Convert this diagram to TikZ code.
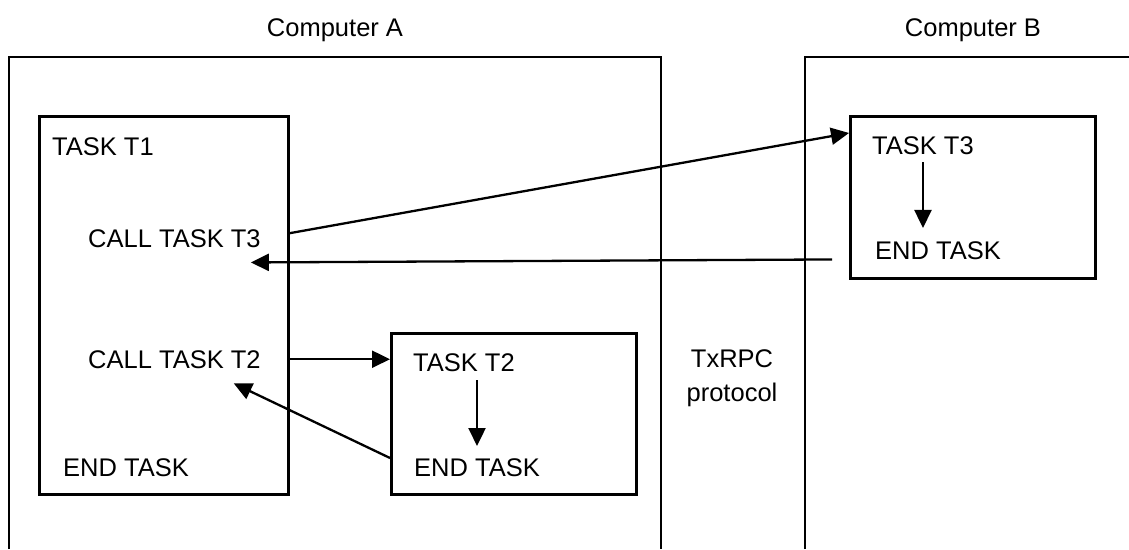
\documentclass[tikz,border=0pt]{standalone}
\usepackage{fontspec}
\setmainfont{Liberation Sans}
\usetikzlibrary{positioning,arrows.meta}

\begin{document}
\begin{tikzpicture}[x=1pt,y=-1pt]
        \tikzset{frame/.style={draw,line width=2.5pt},
            taskbox/.style={draw,line width=2.5pt,inner sep=0pt,anchor=north west},
            lbl/.style={font=\fontsize{25.5}{34}\selectfont,inner sep=0pt,anchor=base west},
            flow/.style={-{Triangle[length=18pt,width=17pt]},line width=2.3pt}}
        \useasboundingbox (0,0) rectangle (1129,549);
        \draw[frame] (9,549) |- (661,57) -- (661,549);
        \draw[frame] (805,549) |- (1129,57);
        \node[lbl,anchor=base] (compa) at (335,36) {Computer A};
        \node[lbl,anchor=base] (compb) at (973,36) {Computer B};
        \node[taskbox,minimum width=249pt,minimum height=378pt] (t1) at (38,115) {};
        \node[taskbox,minimum width=245pt,minimum height=161pt] (t2) at (390,332) {};
        \node[taskbox,minimum width=245pt,minimum height=162pt] (t3) at (849,115) {};
        \node[lbl] (t1title) at (52,155) {TASK T1};
        \node[lbl] (call3) at (88,247) {CALL TASK T3};
        \node[lbl] (call2) at (88,368) {CALL TASK T2};
        \node[lbl] (end1) at (63,476) {END TASK};
        \node[lbl] (t2title) at (413,371) {TASK T2};
        \node[lbl] (end2) at (414,476) {END TASK};
        \node[lbl] (t3title) at (872,154) {TASK T3};
        \node[lbl] (end3) at (875,259) {END TASK};
        \node[lbl,anchor=center,align=center] (proto) at (732,378) {TxRPC\\protocol};
        \draw[flow] ([yshift=5pt]t1.east |- call3) -- ([yshift=3pt]t3.west |- t3title.north);
        \draw[flow] ([xshift=-17pt]t3.west |- end3.south) -- ([xshift=-10pt,yshift=-15pt]call3.south east);
        \draw[flow] (t1.east |- call2) -- (t2.west |- call2);
        \draw[flow] (t2.west |- end2.north) -- ([xshift=-27pt,yshift=-15pt]call2.south east);
        \draw[flow,shorten <=9pt,shorten >=12pt] (t2title.south -| end2.north) -- (end2.north);
        \draw[flow,shorten <=8pt,shorten >=13pt] (t3title.south) -- (t3title.south |- end3.north);
    \end{tikzpicture}
\end{document}
